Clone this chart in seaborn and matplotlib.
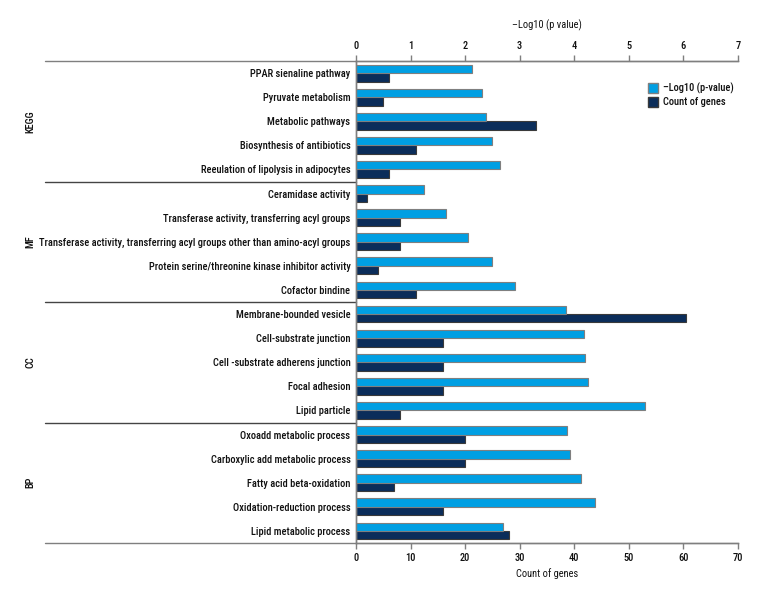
import numpy as np
import pandas as pd
import matplotlib
matplotlib.use('Agg')
import matplotlib.pyplot as plt
from matplotlib.patches import Patch
from matplotlib import font_manager as fm
import seaborn as sns

# data
terms = [
    'PPAR sienaline pathway', 'Pyruvate metabolism', 'Metabolic pathways',
    'Biosynthesis of antibiotics', 'Reeulation of lipolysis in adipocytes',
    'Ceramidase activity', 'Transferase activity, transferring acyl groups',
    'Transferase activity, transferring acyl groups other than amino-acyl groups',
    'Protein serine/threonine kinase inhibitor activity', 'Cofactor bindine',
    'Membrane-bounded vesicle', 'Cell-substrate junction',
    'Cell -substrate adherens junction', 'Focal adhesion', 'Lipid particle',
    'Oxoadd metabolic process', 'Carboxylic add metabolic process',
    'Fatty acid beta-oxidation', 'Oxidation-reduction process',
    'Lipid metabolic process',
]
groups = ['KEGG', 'MF', 'CC', 'BP']
group_sizes = [5, 5, 5, 5]
log_p = [2.13, 2.31, 2.39, 2.49, 2.64,
         1.24, 1.65, 2.06, 2.49, 2.91,
         3.85, 4.17, 4.20, 4.26, 5.30,
         3.86, 3.92, 4.12, 4.38, 2.70]
gene_count = [6, 5, 33, 11, 6,
              2, 8, 8, 4, 11,
              60.5, 16, 16, 16, 8,
              20, 20, 7, 16, 28]

LOG_LBL = '\u2013Log10 (p-value)'
CNT_LBL = 'Count of genes'
colors = {LOG_LBL: '#009FE3', CNT_LBL: '#0B2D5A'}
edges = {LOG_LBL: '#7f7f7f', CNT_LBL: '#3a3a3a'}
hue_order = [LOG_LBL, CNT_LBL]

df_log = pd.DataFrame({'term': terms, 'value': log_p, 'series': LOG_LBL})
df_cnt = pd.DataFrame({'term': terms, 'value': gene_count, 'series': CNT_LBL})

sns.set_theme(style='white')

# look for a condensed face, the original uses a narrow font
names = {f.name for f in fm.fontManager.ttflist}
cands = ['Liberation Sans Narrow', 'DejaVu Sans Condensed', 'Noto Sans Condensed',
         'Roboto Condensed', 'Open Sans Condensed']
family = None
stretch = 'normal'
for c in cands:
    if c in names:
        family = c
        break
if family is None:
    for f in fm.fontManager.ttflist:
        if f.stretch in ('condensed', 'semi-condensed', 'extra-condensed'):
            family = f.name
            stretch = 'condensed'
            break
if family is None:
    family = 'Liberation Sans'
    fs = 6.5
else:
    fs = 7.5
plt.rcParams['font.family'] = [family, 'DejaVu Sans']
plt.rcParams['font.stretch'] = stretch
plt.rcParams['font.weight'] = 'medium'
plt.rcParams['font.size'] = fs
plt.rcParams['text.color'] = '#111111'
line_col = '#7f7f7f'
txt_col = '#111111'

fig = plt.figure(figsize=(7.68, 6.0), dpi=100)
ax = fig.add_axes([0.4635, 0.095, 0.4974, 0.8033])
ax2 = ax.twiny()

sns.barplot(data=df_cnt, y='term', x='value', hue='series', hue_order=hue_order,
            palette=colors, saturation=1, order=terms, width=0.7, dodge=True,
            ax=ax, legend=False, edgecolor=edges[CNT_LBL], linewidth=0.8)
sns.barplot(data=df_log, y='term', x='value', hue='series', hue_order=hue_order,
            palette=colors, saturation=1, order=terms, width=0.7, dodge=True,
            ax=ax2, legend=False, edgecolor=edges[LOG_LBL], linewidth=0.8)

ax.set_xlim(0, 70)
ax2.set_xlim(0, 7)
ax.set_xticks(np.arange(0, 71, 10))
ax2.set_xticks(np.arange(0, 8, 1))
ax.set_ylim(len(terms) - 0.5, -0.5)
ax2.set_ylim(len(terms) - 0.5, -0.5)

ax.set_xlabel(CNT_LBL, fontsize=fs, labelpad=4, color=txt_col)
ax2.set_xlabel('\u2013Log10 (p value)', fontsize=fs, labelpad=9, color=txt_col)
ax.set_ylabel('')
ax2.set_ylabel('')

for a in (ax, ax2):
    for s in a.spines.values():
        s.set_color(line_col)
        s.set_linewidth(1.0)
    a.spines['right'].set_visible(False)
    a.tick_params(axis='x', direction='out', length=4, width=1, color=line_col,
                  labelsize=fs, labelcolor=txt_col, pad=3)
ax.tick_params(axis='y', length=0, labelsize=fs, labelcolor=txt_col, pad=4)
ax2.tick_params(axis='y', length=0)

# group separators and group labels to the left of the axis
trans = matplotlib.transforms.blended_transform_factory(ax.transAxes, ax.transData)
start = 0
bounds = [-0.5]
for g, n in zip(groups, group_sizes):
    mid = start + (n - 1) / 2
    ax.text(-0.852, mid, g, transform=trans, rotation=90, ha='center',
            va='center', fontsize=fs, color=txt_col)
    start += n
    bounds.append(start - 0.5)
for i, b in enumerate(bounds):
    c = line_col if i in (0, len(bounds) - 1) else '#444444'
    ax.plot([-0.815, 0], [b, b], transform=trans, color=c, lw=1.0,
            clip_on=False)

handles = [Patch(facecolor=colors[k], edgecolor=edges[k], label=k) for k in hue_order]
ax2.legend(handles=handles, loc='upper right', bbox_to_anchor=(0.99, 0.955),
           borderaxespad=0, borderpad=0, frameon=False, fontsize=fs,
           handlelength=1.0, handleheight=1.0, handletextpad=0.5,
           labelspacing=0.3)

fig.savefig('out.png', dpi=100)
